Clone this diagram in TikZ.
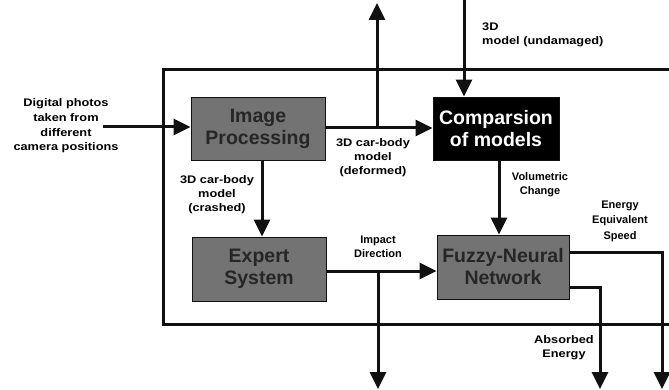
\documentclass[tikz,border=0pt]{standalone}
\usepackage{fontspec}
\setmainfont{Liberation Sans}
\newfontfamily\widefont[FakeStretch=1.16]{Liberation Sans}
\usetikzlibrary{arrows.meta,calc}
\definecolor{boxgray}{HTML}{737373}
\definecolor{boxtext}{HTML}{262626}
\definecolor{lineblk}{HTML}{111111}
\begin{document}
\begin{tikzpicture}[x=1pt,y=-1pt,
  wire/.style={line width=3pt,draw=lineblk},
  arr/.style={wire,-{Triangle[length=17pt,width=16pt]}},
  graybox/.style={draw=lineblk,line width=0.8pt,fill=boxgray,text=boxtext,
    minimum width=134pt,minimum height=63pt,align=center,inner sep=0pt,
    font=\bfseries\fontsize{19.5}{22}\selectfont},
  blackbox/.style={graybox,fill=black,text=white},
  lbl/.style={align=center,inner sep=0pt,font=\bfseries\fontsize{11}{14}\selectfont},
  wlbl/.style={align=center,inner sep=0pt,font=\widefont\bfseries\fontsize{11}{14}\selectfont}]
\useasboundingbox (0,0) rectangle (669,390);
% outer frame
\coordinate (fr1) at (672,70);
\coordinate (fr2) at (163,70);
\coordinate (fr3) at (163,324);
\coordinate (fr4) at (672,324);
\draw[wire] (fr1) -- (fr2) -- (fr3) -- (fr4);
% boxes
\node[graybox] (ip) at (258,128.5) {Image\\Processing};
\node[blackbox,minimum width=126pt] (cm) at (496,128.5) {Comparsion\\of models};
\node[graybox,minimum height=64pt] (es) at (259,269) {Expert\\System};
\node[graybox,minimum width=132pt,minimum height=64pt] (fn) at (503,267) {Fuzzy-Neural\\Network};
% coordinates
\coordinate (inL) at (103,127);
\coordinate (upX) at (377,128);
\coordinate (upTop) at (377,3);
\coordinate (topIn) at (464,0);
\coordinate (ipDn) at (262,160);
\coordinate (cmDn) at (499,160);
\coordinate (brX) at (378,271);
\coordinate (brBot) at (378,389);
\coordinate (eesCorner) at (662,252);
\coordinate (eesBot) at (662,389);
\coordinate (aeCorner) at (600,287);
\coordinate (aeBot) at (600,389);
% connectors
\draw[arr] (inL) -- (inL -| ip.west);
\draw[arr] (ip.east |- upX) -- (upX -| cm.west);
\draw[arr] (upX) -- (upTop);
\draw[arr] (topIn) -- (topIn |- cm.north);
\draw[arr] (ipDn) -- (ipDn |- es.north);
\draw[arr] (cmDn) -- (cmDn |- fn.north);
\draw[arr] (es.east |- brX) -- (brX -| fn.west);
\draw[arr] (brX) -- (brBot);
\draw[arr] (fn.east |- eesCorner) -- (eesCorner) -- (eesBot);
\draw[arr] (fn.east |- aeCorner) -- (aeCorner) -- (aeBot);
% labels
\node[wlbl,font=\widefont\bfseries\fontsize{11}{14.7}\selectfont] (tin) at (66,126) {Digital photos\\taken from\\different\\camera positions};
\node[wlbl,align=left,anchor=north west] (tund) at (482,23) {3D\\model (undamaged)};
\node[wlbl] (tcr) at (217,195) {3D car-body\\model\\(crashed)};
\node[wlbl] (tdef) at (373,158) {3D car-body\\model\\(deformed)};
\node[lbl] (tvol) at (540,185) {Volumetric\\Change};
\node[lbl,font=\bfseries\fontsize{11}{15.5}\selectfont] (tees) at (620,221) {Energy\\Equivalent\\Speed};
\node[lbl] (timp) at (378,247) {Impact\\Direction};
\node[wlbl] (tabs) at (564,348) {Absorbed\\Energy};
\end{tikzpicture}
\end{document}
